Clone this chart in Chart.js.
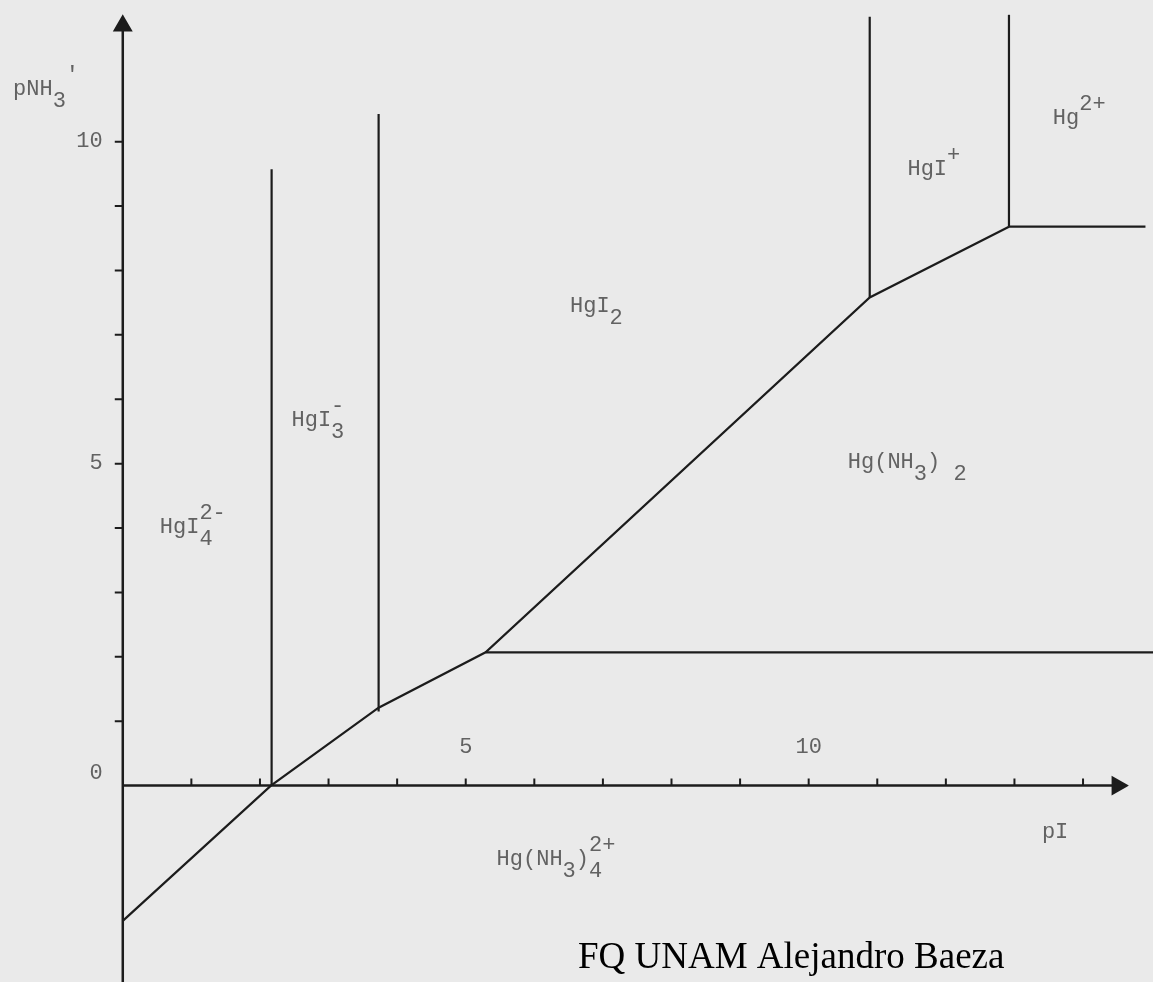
<!DOCTYPE html>
<html>
<head>
<meta charset="utf-8">
<title>Diagrama de zonas de predominio Hg(II) - I- - NH3</title>
<script src="https://cdn.jsdelivr.net/npm/chart.js@4.4.1/dist/chart.umd.min.js"></script>
<style>
  html, body { margin: 0; padding: 0; background: #eaeaea; }
  #wrap { position: relative; width: 1153px; height: 982px; }
</style>
</head>
<body>
<div id="wrap"><canvas id="diagrama"></canvas></div>
<script>
// limites del diagrama (pI en x, pNH3 en y)
const pIMin = -1.79, pIMax = 15.02;
const pNH3Min = -3.05, pNH3Max = 12.2;

// frontera quebrada inferior
const fronteraX = [0, 2.16, 3.73, 5.29, 10.89, 12.92];
const fronteraY = [-2.10, 0, 1.21, 2.07, 7.58, 8.68];

// fronteras verticales (pI constante)
const verticalX   = [2.17, 3.73, 10.89, 12.92];
const verticalIni = [0, 1.15, 7.58, 8.68];
const verticalFin = [9.57, 10.43, 11.94, 11.97];

// fronteras horizontales (pNH3 constante)
const horizontalY   = [2.07, 8.68];
const horizontalIni = [5.29, 12.92];
const horizontalFin = [15.02, 14.91];

// ejes: centro de la punta de flecha
const ejeXFin = 14.5;
const ejeYFin = 11.8;

// marcas y etiquetas de los ejes
const ticksX = [1, 2, 3, 4, 5, 6, 7, 8, 9, 10, 11, 12, 13, 14];
const ticksY = [1, 2, 3, 4, 5, 6, 7, 8, 9, 10];
const etiquetasXVal = [5, 10];
const etiquetasX = ['5', '10'];
const etiquetasYVal = [0, 5, 10];
const etiquetasY = ['0', '5', '10'];

// especies (t = normal, sub = subindice, sup = superindice)
const especies = [
  { partes: [{t: 'HgI'}, {sub: '4', sup: '2-'}], x: 0.54, y: 4.01 },
  { partes: [{t: 'HgI'}, {sub: '3', sup: '-'}], x: 2.46, y: 5.68 },
  { partes: [{t: 'HgI'}, {sub: '2'}], x: 6.52, y: 7.44 },
  { partes: [{t: 'Hg(NH'}, {sub: '3'}, {t: ')'}, {sub: ' 2'}], x: 10.57, y: 5.02 },
  { partes: [{t: 'HgI'}, {sup: '+'}], x: 11.44, y: 9.57 },
  { partes: [{t: 'Hg'}, {sup: '2+'}], x: 13.56, y: 10.37 },
  { partes: [{t: 'Hg(NH'}, {sub: '3'}, {t: ')'}, {sub: '4', sup: '2+'}], x: 5.45, y: -1.15 }
];

// titulos de ejes
const tituloY = { partes: [{t: 'pNH'}, {sub: '3'}, {sup: '\u2032'}], x: -1.60, y: 10.81 };
const tituloX = { partes: [{t: 'pI'}], x: 13.4, y: -0.73 };

const COLOR_LINEA = '#1c1c1c';
const COLOR_TEXTO = '#626262';
const FUENTE = '22px "Liberation Mono", "DejaVu Sans Mono", monospace';

function segmento(p1, p2, extra) {
    return Object.assign({
        data: [p1, p2],
        showLine: true,
        borderColor: COLOR_LINEA,
        borderWidth: 2.2,
        pointRadius: 0
    }, extra || {});
}

const datasets = [];

// frontera quebrada
datasets.push({
    data: fronteraX.map((x, i) => ({x: x, y: fronteraY[i]})),
    showLine: true,
    borderColor: COLOR_LINEA,
    borderWidth: 2.2,
    pointRadius: 0
});

verticalX.forEach((x, i) => {
    datasets.push(segmento({x: x, y: verticalIni[i]}, {x: x, y: verticalFin[i]}));
});

horizontalY.forEach((y, i) => {
    datasets.push(segmento({x: horizontalIni[i], y: y}, {x: horizontalFin[i], y: y}));
});

// ejes con flecha
datasets.push(segmento({x: 0, y: pNH3Min}, {x: 0, y: ejeYFin}, {
    borderWidth: 2.5,
    pointRadius: [0, 9],
    pointStyle: 'triangle',
    pointRotation: 0,
    pointBackgroundColor: COLOR_LINEA,
    pointBorderColor: COLOR_LINEA
}));
datasets.push(segmento({x: 0, y: 0}, {x: ejeXFin, y: 0}, {
    borderWidth: 2.5,
    pointRadius: [0, 9],
    pointStyle: 'triangle',
    pointRotation: 90,
    pointBackgroundColor: COLOR_LINEA,
    pointBorderColor: COLOR_LINEA
}));

// dibuja un texto con subindices y superindices
function dibujarFormula(ctx, partes, px, py) {
    let x = px;
    partes.forEach(p => {
        if (p.t) {
            ctx.fillText(p.t, x, py);
            x += ctx.measureText(p.t).width;
        } else {
            let w = 0;
            if (p.sub) {
                ctx.fillText(p.sub, x, py + 12);
                w = ctx.measureText(p.sub).width;
            }
            if (p.sup) {
                ctx.fillText(p.sup, x, py - 14);
                w = Math.max(w, ctx.measureText(p.sup).width);
            }
            x += w;
        }
    });
}

const zonasPlugin = {
    id: 'zonas',
    afterDatasetsDraw(chart) {
        const ctx = chart.ctx;
        const sx = chart.scales.x;
        const sy = chart.scales.y;
        const x0 = sx.getPixelForValue(0);
        const y0 = sy.getPixelForValue(0);

        ctx.save();

        // marcas de los ejes
        ctx.strokeStyle = COLOR_LINEA;
        ctx.lineWidth = 2;
        ctx.beginPath();
        ticksX.forEach(v => {
            const px = sx.getPixelForValue(v);
            ctx.moveTo(px, y0);
            ctx.lineTo(px, y0 - 7);
        });
        ticksY.forEach(v => {
            const py = sy.getPixelForValue(v);
            ctx.moveTo(x0, py);
            ctx.lineTo(x0 - 8, py);
        });
        ctx.stroke();

        ctx.font = FUENTE;
        ctx.fillStyle = COLOR_TEXTO;
        ctx.textBaseline = 'middle';

        // etiquetas de los ejes
        ctx.textAlign = 'center';
        etiquetasXVal.forEach((v, i) => {
            ctx.fillText(etiquetasX[i], sx.getPixelForValue(v), y0 - 38);
        });
        ctx.textAlign = 'right';
        etiquetasYVal.forEach((v, i) => {
            ctx.fillText(etiquetasY[i], x0 - 20, sy.getPixelForValue(v) - (v === 0 ? 12 : 0));
        });

        // nombres de especies y titulos
        ctx.textAlign = 'left';
        especies.concat([tituloY, tituloX]).forEach(e => {
            dibujarFormula(ctx, e.partes, sx.getPixelForValue(e.x), sy.getPixelForValue(e.y));
        });

        // firma
        ctx.font = '37px "Liberation Serif", "Times New Roman", serif';
        ctx.fillStyle = '#000000';
        ctx.textBaseline = 'alphabetic';
        ctx.fillText('FQ UNAM Alejandro Baeza', 578, 968);

        ctx.restore();
    }
};

new Chart(document.getElementById('diagrama'), {
    type: 'scatter',
    data: { datasets: datasets },
    options: {
        responsive: true,
        maintainAspectRatio: false,
        animation: false,
        events: [],
        layout: { padding: 0, autoPadding: false },
        plugins: {
            legend: { display: false },
            tooltip: { enabled: false }
        },
        scales: {
            x: { type: 'linear', min: pIMin, max: pIMax, display: false },
            y: { type: 'linear', min: pNH3Min, max: pNH3Max, display: false }
        }
    },
    plugins: [zonasPlugin]
});
</script>
</body>
</html>
